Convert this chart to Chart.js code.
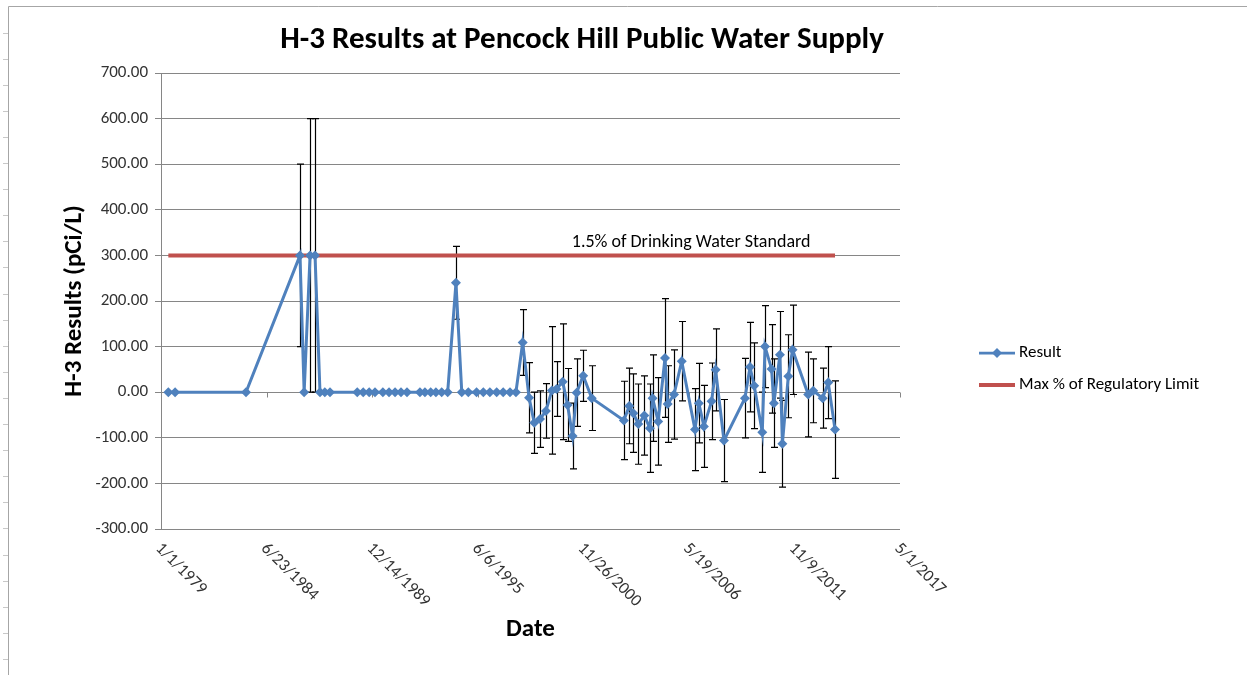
<!DOCTYPE html>
<html>
<head>
<meta charset="utf-8">
<script src="https://cdn.jsdelivr.net/npm/chart.js@4.4.0/dist/chart.umd.min.js"></script>
<style>
  body { margin: 0; background: #fff; }
  #wrap { width: 1247px; height: 675px; }
</style>
</head>
<body>
<div id="wrap"><canvas id="myChart" width="1247" height="675"></canvas></div>
<script>
// sample dates and H-3 results with their +/- error
var sampleDates = [
  '1979-05-20', '1979-09-25', '1983-05-30', '1986-03-18', '1986-06-05', '1986-09-25', '1986-12-28',
  '1987-04-01', '1987-07-01', '1987-10-08',
  '1989-03-07', '1989-06-28', '1989-10-19', '1990-02-06', '1990-07-05', '1990-10-30', '1991-02-21',
  '1991-06-14', '1991-10-05',
  '1992-06-06', '1992-09-09', '1992-12-27', '1993-04-05', '1993-07-23', '1993-11-14',
  '1994-04-20',
  '1994-08-08', '1994-12-10', '1995-05-15', '1995-09-20', '1996-01-22', '1996-05-30', '1996-10-01',
  '1997-02-07', '1997-05-30',
  '1997-10-05', '1998-02-03', '1998-05-12', '1998-08-29', '1998-12-20', '1999-04-12', '1999-07-08',
  '1999-11-02', '2000-02-02', '2000-05-07', '2000-07-23', '2000-11-24', '2001-05-05',
  '2003-01-04', '2003-04-16', '2003-07-02', '2003-10-05', '2004-01-26', '2004-05-11', '2004-07-01',
  '2004-10-15', '2005-02-21', '2005-04-13', '2005-08-11', '2006-01-04',
  '2006-09-12', '2006-11-24', '2007-02-28', '2007-07-23', '2007-10-08', '2008-03-14',
  '2009-04-16', '2009-07-20', '2009-10-08', '2010-03-10', '2010-05-01', '2010-09-02', '2010-10-16',
  '2011-02-07', '2011-03-26', '2011-07-16', '2011-10-05',
  '2012-07-27', '2012-10-30', '2013-04-27', '2013-08-11', '2013-12-17'
];
var results = [
  0, 0, 0, 300, 0, 300, 300, 0, 0, 0,
  0, 0, 0, 0, 0, 0, 0, 0, 0,
  0, 0, 0, 0, 0, 0,
  240,
  0, 0, 0, 0, 0, 0, 0, 0, 0,
  109, -12, -67, -59, -41, 4, 7, 23, -28, -96, -1, 36, -13,
  -62, -30, -46, -70, -51, -79, -13, -64, 75, -26, -5, 68,
  -82, -24, -75, -20, 49, -106,
  -13, 55, 14, -88, 100, 51, -24, 82, -113, 35, 93,
  -5, 3, -13, 21, -82
];
var errors = [
  0, 0, 0, 200, 0, 300, 300, 0, 0, 0,
  0, 0, 0, 0, 0, 0, 0, 0, 0,
  0, 0, 0, 0, 0, 0,
  80,
  0, 0, 0, 0, 0, 0, 0, 0, 0,
  72, 77, 67, 62, 60, 140, 60, 127, 80, 72, 74, 56, 71,
  86, 83, 86, 88, 87, 97, 95, 96, 130, 84, 98, 87,
  90, 87, 90, 84, 90, 90,
  87, 98, 94, 88, 90, 97, 97, 95, 95, 91, 98,
  93, 70, 66, 79, 107
];

// regulatory limit line
var limitDates = ['1979-05-20', '2013-12-17'];
var limitValues = [300, 300];
var limitLabel = '1.5% of Drinking Water Standard';
var limitLabelDate = '2006-07-01';

// axis setup
var axisStart = '1979-01-01';
var axisEnd = '2017-05-01';
var xStepDays = 2000;
var yMin = -300, yMax = 700, yStep = 100;

var FONT = "Carlito, Calibri, Lato, sans-serif";

function toDays(s) {
  var p = s.split('-');
  var a = axisStart.split('-');
  return (Date.UTC(+p[0], +p[1] - 1, +p[2]) - Date.UTC(+a[0], +a[1] - 1, +a[2])) / 864e5;
}
function fmtDate(days) {
  var a = axisStart.split('-');
  var d = new Date(Date.UTC(+a[0], +a[1] - 1, +a[2]) + days * 864e5);
  return (d.getUTCMonth() + 1) + '/' + d.getUTCDate() + '/' + d.getUTCFullYear();
}

var resultPoints = [];
for (var i in sampleDates) {
  resultPoints.push({ x: toDays(sampleDates[i]), y: results[i] });
}
var limitPoints = [];
for (var j in limitDates) {
  limitPoints.push({ x: toDays(limitDates[j]), y: limitValues[j] });
}

var extras = {
  id: 'extras',
  beforeDatasetsDraw: function (chart) {
    var ctx = chart.ctx;
    var xs = chart.scales.x, ys = chart.scales.y;
    ctx.save();
    // small tick marks on the horizontal axis (it crosses at 0)
    ctx.strokeStyle = '#868686';
    ctx.lineWidth = 1;
    var y0 = Math.round(ys.getPixelForValue(0)) + 0.5;
    for (var v = 0; v <= toDays(axisEnd); v += xStepDays) {
      var tx = Math.round(xs.getPixelForValue(v)) + 0.5;
      ctx.beginPath();
      ctx.moveTo(tx, y0);
      ctx.lineTo(tx, y0 + 5);
      ctx.stroke();
    }
    // error bars
    ctx.strokeStyle = '#000';
    ctx.lineWidth = 1.2;
    for (var i = 0; i < results.length; i++) {
      if (!errors[i]) continue;
      var px = Math.round(xs.getPixelForValue(toDays(sampleDates[i]))) + 0.5;
      var top = ys.getPixelForValue(results[i] + errors[i]);
      var bot = ys.getPixelForValue(results[i] - errors[i]);
      ctx.beginPath();
      ctx.moveTo(px, top);
      ctx.lineTo(px, bot);
      ctx.moveTo(px - 3.5, top);
      ctx.lineTo(px + 3.5, top);
      ctx.moveTo(px - 3.5, bot);
      ctx.lineTo(px + 3.5, bot);
      ctx.stroke();
    }
    ctx.restore();
  },
  afterDraw: function (chart) {
    var ctx = chart.ctx;
    var xs = chart.scales.x, ys = chart.scales.y;
    ctx.save();

    // sheet frame
    ctx.strokeStyle = '#a6a6a6';
    ctx.lineWidth = 1;
    ctx.beginPath();
    ctx.moveTo(8.5, 675);
    ctx.lineTo(8.5, 6.5);
    ctx.lineTo(1247, 6.5);
    ctx.stroke();
    ctx.strokeStyle = '#c8c8c8';
    for (var ry = 32.5; ry < 675; ry += 26.1) {
      ctx.beginPath();
      ctx.moveTo(3, Math.round(ry) + 0.5);
      ctx.lineTo(8, Math.round(ry) + 0.5);
      ctx.stroke();
    }

    // title
    ctx.fillStyle = '#000';
    ctx.textAlign = 'center';
    ctx.textBaseline = 'middle';
    var title = 'H-3 Results at Pencock Hill Public Water Supply';
    var size = 34;
    ctx.font = 'bold ' + size + 'px ' + FONT;
    while (ctx.measureText(title).width > 610 && size > 10) {
      size -= 0.5;
      ctx.font = 'bold ' + size + 'px ' + FONT;
    }
    ctx.fillText(title, 582, 40);

    // rotated date labels
    ctx.font = '17px ' + FONT;
    ctx.fillStyle = '#333';
    ctx.textAlign = 'left';
    for (var v = 0; v <= toDays(axisEnd); v += xStepDays) {
      var tx = xs.getPixelForValue(v);
      ctx.save();
      ctx.translate(tx - 3, 546);
      ctx.rotate(Math.PI / 4);
      ctx.fillText(fmtDate(v), 0, 0);
      ctx.restore();
    }

    // limit label
    ctx.fillStyle = '#000';
    ctx.textAlign = 'center';
    ctx.font = '18px ' + FONT;
    ctx.fillText(limitLabel, xs.getPixelForValue(toDays(limitLabelDate)), ys.getPixelForValue(limitValues[0]) - 13);

    // legend
    var lx = 979, ly1 = 353, ly2 = 385;
    ctx.lineWidth = 2.75;
    ctx.strokeStyle = '#4F81BD';
    ctx.beginPath();
    ctx.moveTo(lx, ly1);
    ctx.lineTo(lx + 36, ly1);
    ctx.stroke();
    ctx.fillStyle = '#4F81BD';
    ctx.beginPath();
    ctx.moveTo(lx + 18, ly1 - 5);
    ctx.lineTo(lx + 23, ly1);
    ctx.lineTo(lx + 18, ly1 + 5);
    ctx.lineTo(lx + 13, ly1);
    ctx.closePath();
    ctx.fill();
    ctx.lineWidth = 4;
    ctx.strokeStyle = '#C0504D';
    ctx.beginPath();
    ctx.moveTo(lx, ly2);
    ctx.lineTo(lx + 36, ly2);
    ctx.stroke();
    ctx.fillStyle = '#000';
    ctx.textAlign = 'left';
    ctx.font = '17px ' + FONT;
    ctx.fillText(chart.data.datasets[0].label, lx + 40, ly1);
    ctx.fillText(chart.data.datasets[1].label, lx + 40, ly2);

    ctx.restore();
  }
};

var ctx = document.getElementById('myChart').getContext('2d');
var chart = new Chart(ctx, {
  type: 'line',
  data: {
    datasets: [{
      label: 'Result',
      data: resultPoints,
      borderColor: '#4F81BD',
      backgroundColor: '#4F81BD',
      borderWidth: 3,
      pointStyle: 'rectRot',
      pointRadius: 5,
      pointBorderWidth: 0,
      pointBackgroundColor: '#4F81BD',
      tension: 0
    }, {
      label: 'Max % of Regulatory Limit',
      data: limitPoints,
      borderColor: '#C0504D',
      backgroundColor: '#C0504D',
      borderWidth: 4,
      pointRadius: 0,
      tension: 0
    }]
  },
  options: {
    responsive: false,
    animation: false,
    layout: { padding: { top: 73, right: 347, bottom: 0, left: 0 } },
    plugins: {
      legend: { display: false },
      title: { display: false },
      tooltip: { enabled: false }
    },
    scales: {
      x: {
        type: 'linear',
        min: 0,
        max: toDays(axisEnd),
        afterFit: function (scale) { scale.height = 146; },
        ticks: { display: false, stepSize: xStepDays },
        grid: { display: false },
        border: { display: false },
        title: {
          display: true,
          text: 'Date',
          color: '#000',
          font: { family: FONT, size: 25, weight: 'bold' },
          padding: { top: 0, bottom: 30 }
        }
      },
      y: {
        min: yMin,
        max: yMax,
        afterFit: function (scale) { scale.width = 161; },
        ticks: {
          stepSize: yStep,
          padding: 7,
          color: '#333',
          font: { family: FONT, size: 17 },
          callback: function (v) { return v.toFixed(2); }
        },
        grid: { color: '#868686', lineWidth: 1, tickLength: 6 },
        border: { display: true, color: '#868686' },
        title: {
          display: true,
          text: 'H-3 Results (pCi/L)',
          color: '#000',
          font: { family: FONT, size: 25, weight: 'bold' },
          padding: { top: 60, bottom: 0 }
        }
      }
    }
  },
  plugins: [extras]
});
</script>
</body>
</html>
